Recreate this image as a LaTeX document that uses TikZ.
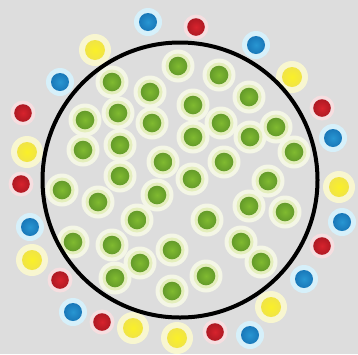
\documentclass[tikz,border=0pt]{standalone}
\definecolor{bgc}{RGB}{221,221,221}
\definecolor{greenin}{RGB}{128,186,48}
\definecolor{greenout}{RGB}{100,155,42}
\definecolor{ghaloA}{RGB}{244,246,230}
\definecolor{ghaloB}{RGB}{228,238,188}
\definecolor{bluein}{RGB}{40,150,210}
\definecolor{blueout}{RGB}{25,120,185}
\definecolor{bhalo}{RGB}{214,240,250}
\definecolor{redin}{RGB}{215,35,45}
\definecolor{redout}{RGB}{175,25,35}
\definecolor{rhalo}{RGB}{246,222,224}
\definecolor{yelin}{RGB}{250,240,40}
\definecolor{yelout}{RGB}{240,228,70}
\definecolor{yhalo}{RGB}{248,246,208}
\tikzset{
  gdot/.style={inner color=greenin, outer color=greenout},
  bdot/.style={inner color=bluein, outer color=blueout},
  rdot/.style={inner color=redin, outer color=redout},
  ydot/.style={inner color=yelin, outer color=yelout},
  ring/.style={draw=black, line width=4pt}
}
\begin{document}
\begin{tikzpicture}[x=1pt,y=-1pt]
\useasboundingbox (0,0) rectangle (358,354);
\fill[bgc] (0,0) rectangle (358,354);
\def\greens{(178,66),(219,75),(112,82),(150,92),(249,97),(193,105),(85,120),(118,113),(152,123),(221,123),(276,127),(83,150),(120,145),(193,137),(250,137),(294,152),(163,162),(224,162),(120,176),(192,179),(268,181),(62,190),(98,202),(157,195),(249,206),(285,212),(137,220),(207,220),(73,242),(112,245),(172,250),(241,242),(140,263),(261,262),(115,278),(206,276),(172,291)}
\def\blues{(148,22),(256,45),(60,82),(333,138),(30,227),(342,222),(304,279),(73,312),(250,335)}
\def\reds{(196,27),(322,108),(23,113),(21,184),(322,246),(60,280),(102,322),(215,332)}
\def\yellows{(95,50),(292,77),(27,152),(339,187),(32,260),(271,307),(133,328),(177,338)}
% green halos
\foreach \p in \greens { \fill[ghaloA] \p circle (16.5pt); }
\foreach \p in \greens { \fill[ghaloB] \p circle (12.5pt); }
% outer halos
\foreach \p in \blues { \fill[bhalo] \p circle (14pt); }
\foreach \p in \reds { \fill[rhalo] \p circle (12.5pt); }
\foreach \p in \yellows { \fill[yhalo] \p circle (16pt); }
% ring
\draw[ring] (180,180) circle (137.5pt);
% dots
\foreach \p in \greens { \shade[gdot] \p circle (9.3pt); }
\foreach \p in \blues { \shade[bdot] \p circle (9pt); }
\foreach \p in \reds { \shade[rdot] \p circle (8.8pt); }
\foreach \p in \yellows { \shade[ydot] \p circle (10pt); }
\end{tikzpicture}
\end{document}
